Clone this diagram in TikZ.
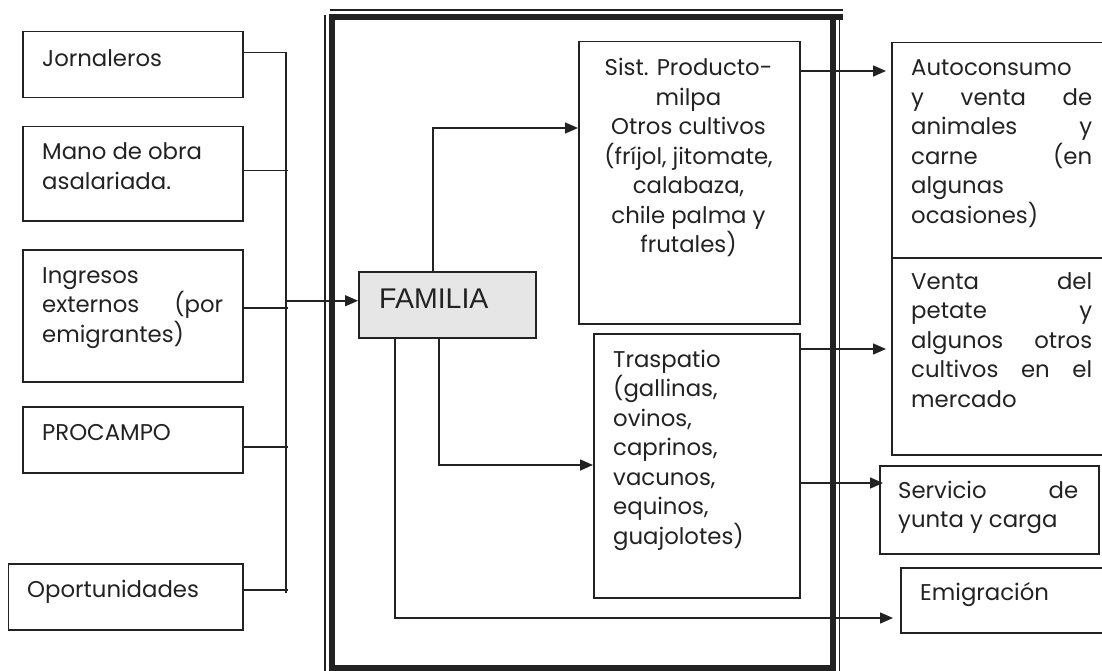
\documentclass[tikz,border=0pt]{standalone}
\usepackage{fontspec}
\setmainfont{Poppins}
\newfontfamily\arialfont{Liberation Sans}
\usetikzlibrary{arrows.meta}
\definecolor{ink}{HTML}{222222}
\definecolor{famfill}{HTML}{E6E6E6}
\newcommand{\gothic}{\fontsize{22.8}{29.5}\selectfont}
\newcommand{\famfont}{\arialfont\fontsize{28.5}{30}\selectfont}
\newcommand{\jline}[1]{\makebox[\linewidth][s]{#1}}
\begin{document}
\begin{tikzpicture}[x=1pt,y=-1pt,
  box/.style={draw=ink, line width=1.5pt, inner sep=0pt, anchor=north west},
  txt/.style={anchor=base west, inner sep=0pt, text=ink},
  ln/.style={draw=ink, line width=1.5pt},
  arr/.style={ln, -{Triangle[length=13pt,width=11pt]}},
  thickframe/.style={draw=ink, line width=6pt},
  thinframe/.style={draw=ink, line width=1.2pt}]
\useasboundingbox (0,0) rectangle (1102,671);
% frame
\draw[thinframe] (330,10) -- (843,10);
\draw[thinframe] (325,15) -- (325,675);
\draw[thinframe] (839.5,20) -- (839.5,675);
\draw[thickframe] (329,17) -- (843,17);
\draw[thickframe] (332,14) -- (332,675);
\draw[thickframe] (832.5,14) -- (832.5,675);
\draw[thickframe] (329,668) -- (836,668);
% left boxes
\node[box, minimum width=220pt, minimum height=66pt] (jor) at (22,31) {};
\node[box, minimum width=220pt, minimum height=94pt] (mano) at (22,126) {};
\node[box, minimum width=220pt, minimum height=132pt] (ing) at (22,249) {};
\node[box, minimum width=220pt, minimum height=66pt] (proc) at (22,406) {};
\node[box, minimum width=234.5pt, minimum height=66pt] (opo) at (7.5,563) {};
\node[txt] at (42,67) {\parbox[t]{181pt}{\gothic Jornaleros}};
\node[txt] at (42,160) {\parbox[t]{181pt}{\gothic Mano de obra\\asalariada.}};
\node[txt] at (42,283) {\parbox[t]{181pt}{\gothic Ingresos\\\jline{externos (por}\\emigrantes)}};
\node[txt] at (42,440) {\parbox[t]{181pt}{\gothic PROCAMPO}};
\node[txt] at (27,597) {\parbox[t]{200pt}{\gothic Oportunidades}};
% center
\node[box, fill=famfill, minimum width=177pt, minimum height=66pt] (fam) at (358,271) {};
\node[txt] at (379,308) {\famfont FAMILIA};
\node[box, minimum width=221pt, minimum height=282pt] (sist) at (578,41) {};
\node[txt, anchor=base] at (688.5,76) {\parbox[t]{221pt}{\centering\gothic Sist. Producto-\\milpa\\Otros cultivos\\(fríjol, jitomate,\\calabaza,\\chile palma y\\frutales)}};
\node[box, minimum width=206pt, minimum height=264pt] (tras) at (593,333) {};
\node[txt] at (613,367) {\parbox[t]{181pt}{\gothic Traspatio\\(gallinas,\\ovinos,\\caprinos,\\vacunos,\\equinos,\\guajolotes)}};
% right boxes
\node[box, minimum width=213pt, minimum height=215pt] (auto) at (891,42) {};
\node[box, minimum width=213pt, minimum height=197pt] (venta) at (891,257) {};
\node[box, minimum width=219pt, minimum height=88pt] (serv) at (879,465) {};
\node[box, minimum width=206pt, minimum height=65pt] (emig) at (900,567) {};
\node[txt] at (911,76) {\parbox[t]{181pt}{\gothic Autoconsumo\\\jline{y venta de}\\\jline{animales y}\\\jline{carne (en}\\algunas\\ocasiones)}};
\node[txt] at (911,289) {\parbox[t]{181pt}{\gothic \jline{Venta del}\\\jline{petate y}\\\jline{algunos otros}\\\jline{cultivos en el}\\mercado}};
\node[txt] at (898,498) {\parbox[t]{180pt}{\gothic \jline{Servicio de}\\yunta y carga}};
\node[txt] at (920,600) {\parbox[t]{181pt}{\gothic Emigración}};
% bus
\coordinate (busT) at (286,52);
\coordinate (busB) at (286,593);
\draw[ln] ([yshift=12pt]jor.east) -| (busB);
\draw[ln] ([yshift=3pt]mano.east) -- ++(44,0);
\draw[ln] ([yshift=8pt]ing.east) -- ++(44,0);
\draw[ln] ([yshift=-7pt]proc.east) -- ++(44,0);
\draw[ln] ([yshift=7pt]opo.east) -- ++(44,0);
\coordinate (famIn) at ([yshift=4pt]fam.west);
\draw[arr] (busT |- famIn) -- (famIn);
% family outputs
\coordinate (famUp) at ([xshift=75pt]fam.north west);
\coordinate (sistIn) at ([yshift=-87pt]sist.north west);
\draw[arr] (famUp) |- (sistIn);
\coordinate (famD1) at ([xshift=81pt]fam.south west);
\coordinate (trasIn) at ([yshift=-132pt]tras.north west);
\draw[arr] (famD1) |- (trasIn);
\coordinate (famD2) at ([xshift=37pt]fam.south west);
\coordinate (emigIn) at ([yshift=-51pt]emig.north west);
\draw[arr, shorten >=7pt] (famD2) |- (emigIn);
% to right
\coordinate (sistOut) at ([yshift=-30pt]sist.north east);
\draw[arr, shorten >=5pt] (sistOut) -- (auto.west |- sistOut);
\coordinate (trasOut1) at ([yshift=-16pt]tras.north east);
\draw[arr, shorten >=5pt] (trasOut1) -- (venta.west |- trasOut1);
\coordinate (trasOut2) at ([yshift=-150pt]tras.north east);
\draw[arr, shorten >=-4pt] (trasOut2) -- (serv.west |- trasOut2);
\end{tikzpicture}
\end{document}
